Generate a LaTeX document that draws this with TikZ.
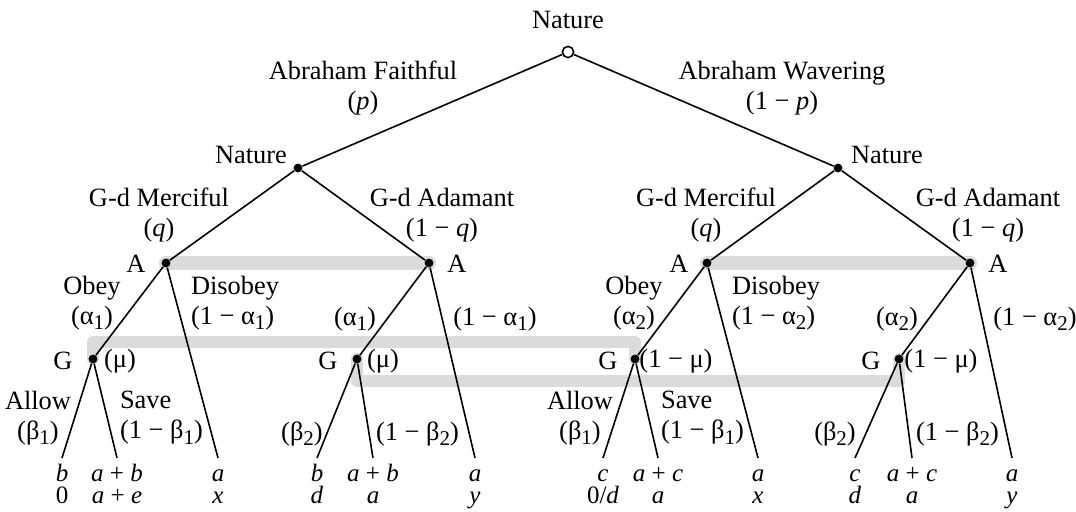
\documentclass[tikz,border=0pt]{standalone}
\usepackage{fontspec}
\setmainfont{Liberation Serif}
\newcommand\lowsub[1]{\raisebox{-0.45ex}{\fontsize{10.5}{10.5}\selectfont #1}}
\pgfdeclarelayer{bg}
\pgfsetlayers{bg,main}
\begin{document}
\begin{tikzpicture}[x=0.5pt,y=-0.5pt,
  every node/.style={font=\fontsize{13.2}{15}\selectfont},
  dot/.style={circle,fill,inner sep=0,minimum size=4.4pt},
  chance/.style={circle,draw,thick,fill=white,inner sep=0,minimum size=5.6pt},
  pay/.style={anchor=north,align=center,inner xsep=1.5pt,inner ysep=3pt,font=\fontsize{12.5}{11}\selectfont},
  infoset/.style={line width=6pt,draw=black!14,line cap=round,line join=round}]
\useasboundingbox (0,0) rectangle (1076,512);

% decision nodes
\node[chance] (n0) at (568,52) {};
\node[dot] (n1) at (298,168) {};
\node[dot] (n2) at (838,168) {};
\node[dot] (a1) at (166,263) {};
\node[dot] (a2) at (429,263) {};
\node[dot] (a3) at (707,263) {};
\node[dot] (a4) at (970,263) {};
\node[dot] (g1) at (93,359) {};
\node[dot] (g2) at (357,359) {};
\node[dot] (g3) at (635,359) {};
\node[dot] (g4) at (899,359) {};

% payoffs
\node[pay] (l1) at (62,458) {\vphantom{Ab}\textit{b}\\0};
\node[pay] (l2) at (117,458) {\vphantom{Ab}\textit{a} + \textit{b}\\\textit{a} + \textit{e}};
\node[pay] (l3) at (218,458) {\vphantom{Ab}\textit{a}\\\textit{x}};
\node[pay] (l4) at (317,458) {\vphantom{Ab}\textit{b}\\\textit{d}};
\node[pay] (l5) at (373,458) {\vphantom{Ab}\textit{a} + \textit{b}\\\textit{a}};
\node[pay] (l6) at (475,458) {\vphantom{Ab}\textit{a}\\\textit{y}};
\node[pay] (l7) at (603,458) {\vphantom{Ab}\textit{c}\\0/\textit{d}};
\node[pay] (l8) at (658,458) {\vphantom{Ab}\textit{a} + \textit{c}\\\textit{a}};
\node[pay] (l9) at (758,458) {\vphantom{Ab}\textit{a}\\\textit{x}};
\node[pay] (l10) at (855,458) {\vphantom{Ab}\textit{c}\\\textit{d}};
\node[pay] (l11) at (912,458) {\vphantom{Ab}\textit{a} + \textit{c}\\\textit{a}};
\node[pay] (l12) at (1012,458) {\vphantom{Ab}\textit{a}\\\textit{y}};

% information sets
\begin{pgfonlayer}{bg}
\draw[infoset,line width=7pt] (a1.center) -- (a2.center);
\draw[infoset,line width=7pt] (a3.center) -- (a4.center);
\draw[infoset] (g1.center) -- (g1.center |- 0,342) -- (g3.center |- 0,342) -- (g3.center);
\draw[infoset] (g2.center) -- (g2.center |- 0,381) -- (g4.center |- 0,381) -- (g4.center);
\end{pgfonlayer}

% branches
\draw[thick] (n0) -- (n1);
\draw[thick] (n0) -- (n2);
\draw[thick] (n1) -- (a1);
\draw[thick] (n1) -- (a2);
\draw[thick] (n2) -- (a3);
\draw[thick] (n2) -- (a4);
\draw[thick] (a1) -- (g1);
\draw[thick] (a1) -- (l3.north);
\draw[thick] (a2) -- (g2);
\draw[thick] (a2) -- (l6.north);
\draw[thick] (a3) -- (g3);
\draw[thick] (a3) -- (l9.north);
\draw[thick] (a4) -- (g4);
\draw[thick] (a4) -- (l12.north);
\draw[thick] (g1) -- (l1.north);
\draw[thick] (g1) -- (l2.north);
\draw[thick] (g2) -- (l4.north);
\draw[thick] (g2) -- (l5.north);
\draw[thick] (g3) -- (l7.north);
\draw[thick] (g3) -- (l8.north);
\draw[thick] (g4) -- (l10.north);
\draw[thick] (g4) -- (l11.north);

% player labels
\node (t0) at (568,20) {Nature};
\node (t1) at (251,155) {Nature};
\node (t2) at (887,155) {Nature};
\node (ta1) at (136,264) {A};
\node (ta2) at (457,264) {A};
\node (ta3) at (679,264) {A};
\node (ta4) at (998,264) {A};
\node (tg1) at (63,361) {G};
\node (tg2) at (328,361) {G};
\node (tg3) at (608,361) {G};
\node (tg4) at (871,361) {G};
\node (mu1) at (120,361) {(μ)};
\node (mu2) at (383,361) {(μ)};
\node (mu3) at (676,361) {(1 − μ)};
\node (mu4) at (941,361) {(1 − μ)};

% move labels
\node[align=center] (bfaith) at (363,88) {Abraham Faithful\\(\textit{p})};
\node[align=center] (bwaver) at (782,88) {Abraham Wavering\\(1 − \textit{p})};
\node[align=center] (bmerc1) at (159,215) {G-d Merciful\\(\textit{q})};
\node[align=center] (badam1) at (442,215) {G-d Adamant\\(1 − \textit{q})};
\node[align=center] (bmerc2) at (706,215) {G-d Merciful\\(\textit{q})};
\node[align=center] (badam2) at (988,215) {G-d Adamant\\(1 − \textit{q})};
\node[align=center] (bobey1) at (92,303) {Obey\\(α\lowsub{1})};
\node[align=left,anchor=west] (bdis1) at (184,303) {Disobey\\(1 − α\lowsub{1})};
\node (bobey2) at (355,319) {(α\lowsub{1})};
\node (bdis2) at (495,319) {(1 − α\lowsub{1})};
\node[align=center] (bobey3) at (634,303) {Obey\\(α\lowsub{2})};
\node[align=left,anchor=west] (bdis3) at (725,303) {Disobey\\(1 − α\lowsub{2})};
\node (bobey4) at (897,319) {(α\lowsub{2})};
\node (bdis4) at (1035,319) {(1 − α\lowsub{2})};
\node[align=center] (ballow1) at (38,418) {Allow\\(β\lowsub{1})};
\node[align=left,anchor=west] (bsave1) at (113,418) {Save\\(1 − β\lowsub{1})};
\node (ballow2) at (302,434) {(β\lowsub{2})};
\node[anchor=west] (bsave2) at (369,434) {(1 − β\lowsub{2})};
\node[align=center] (ballow3) at (580,418) {Allow\\(β\lowsub{1})};
\node[align=left,anchor=west] (bsave3) at (654,418) {Save\\(1 − β\lowsub{1})};
\node (ballow4) at (835,434) {(β\lowsub{2})};
\node[anchor=west] (bsave4) at (909,434) {(1 − β\lowsub{2})};
\end{tikzpicture}
\end{document}
